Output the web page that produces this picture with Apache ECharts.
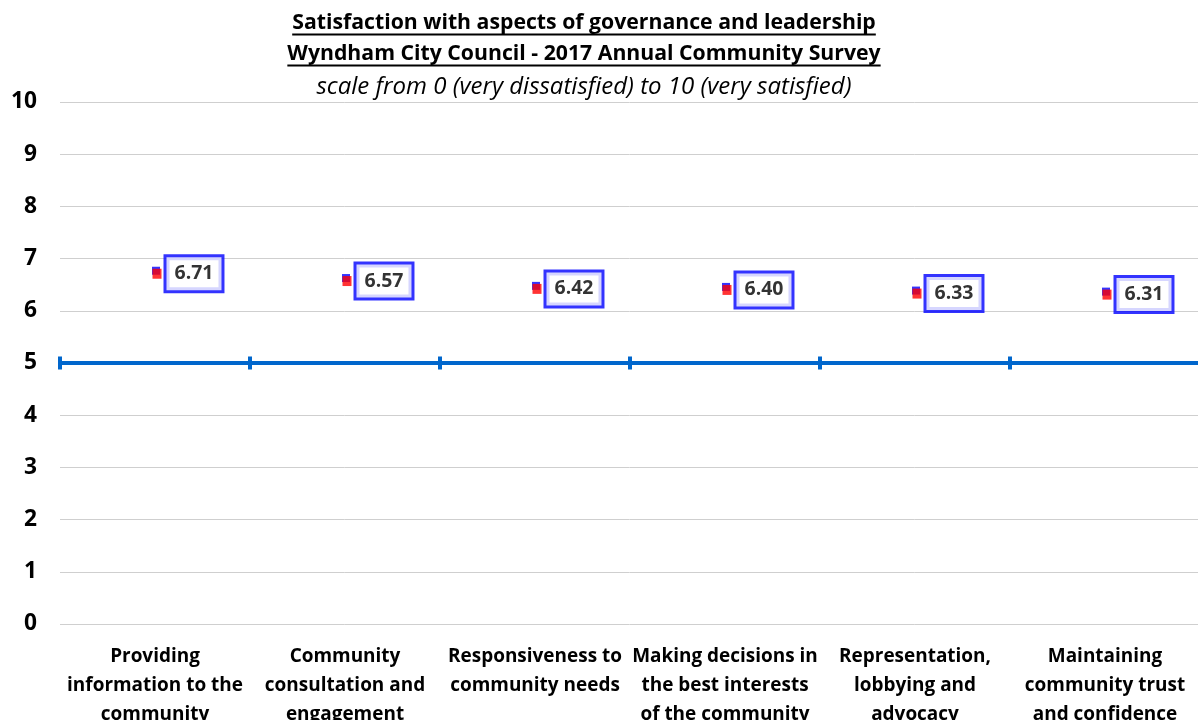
<!DOCTYPE html>
<html><head><meta charset="utf-8">
<script src="https://cdn.jsdelivr.net/npm/echarts@6/dist/echarts.min.js"></script>
<style>html,body{margin:0;padding:0;background:#fff;overflow:hidden}#c{width:1198px;height:720px}</style>
</head><body><div id="c"></div>
<script>
const titleLine1 = 'Satisfaction with aspects of governance and leadership';
const titleLine2 = 'Wyndham City Council - 2017 Annual Community Survey';
const subtitle = 'scale from 0 (very dissatisfied) to 10 (very satisfied)';
const categories = [
  'Providing\ninformation to the\ncommunity',
  'Community\nconsultation and\nengagement',
  'Responsiveness to\ncommunity needs',
  'Making decisions in\nthe best interests\nof the community',
  'Representation,\nlobbying and\nadvocacy',
  'Maintaining\ncommunity trust\nand confidence'
];
const scores = [6.71, 6.57, 6.42, 6.40, 6.33, 6.31];
const yTicks = [0,1,2,3,4,5,6,7,8,9,10];
const referenceLevel = 5;

const FONT = '"Open Sans", Lato, sans-serif';
const ctx = document.createElement('canvas').getContext('2d');
function fit(text, style, target){
  ctx.font = style + ' 100px ' + FONT;
  return 100 * target / ctx.measureText(text).width;
}
const tSize = fit(titleLine1, 'bold', 584);
const sSize = fit(subtitle, 'italic', 535);
const catSize = fit('information to the', 'bold', 176);
const ySize = fit('10', 'bold', 26);
const vSize = fit('6.71', 'bold', 39);
ctx.font = 'bold ' + tSize + 'px ' + FONT;
const w1 = ctx.measureText(titleLine1).width, w2 = ctx.measureText(titleLine2).width;

const chart = echarts.init(document.getElementById('c'));
const gridTop = 102, gridBottom = 96, chartH = 720;
const plotH = chartH - gridTop - gridBottom;
const yMin = yTicks[0], yMax = yTicks[yTicks.length-1];
const refOffset = -plotH * (referenceLevel - yMin) / (yMax - yMin);
const cx = 584;

chart.setOption({
  animation:false,
  graphic:[
    {type:'text', x:cx, y:30 - 0.32*tSize, style:{text:titleLine1, align:'center', verticalAlign:'middle', font:'bold '+tSize+'px '+FONT, fill:'#000'}},
    {type:'text', x:cx, y:60.5 - 0.32*tSize, style:{text:titleLine2, align:'center', verticalAlign:'middle', font:'bold '+tSize+'px '+FONT, fill:'#000'}},
    {type:'text', x:cx, y:95 - 0.32*sSize, style:{text:subtitle, align:'center', verticalAlign:'middle', font:'italic '+sSize+'px '+FONT, fill:'#000'}},
    {type:'line', shape:{x1:cx-w1/2, y1:34.5, x2:cx+w1/2, y2:34.5}, style:{stroke:'#000', lineWidth:1.8}},
    {type:'line', shape:{x1:cx-w2/2, y1:65.5, x2:cx+w2/2, y2:65.5}, style:{stroke:'#000', lineWidth:1.8}}
  ],
  grid:{left:60, right:-2, top:gridTop, bottom:gridBottom, containLabel:false, outerBoundsMode:'none'},
  xAxis:[
    {type:'category', data:categories, boundaryGap:true,
     axisLine:{show:false}, axisTick:{show:false},
     axisLabel:{interval:0, margin:18, fontFamily:FONT, fontSize:catSize, fontWeight:'bold', color:'#000', lineHeight:29, verticalAlign:'top'}},
    {type:'category', data:categories, boundaryGap:true, position:'bottom', offset:refOffset,
     axisLine:{show:true, lineStyle:{color:'#0066CC', width:4}},
     axisTick:{show:true, inside:false, length:6.5, interval:0, lineStyle:{color:'#0066CC', width:4}},
     axisLabel:{show:false}},
    {type:'category', data:categories, boundaryGap:true, position:'bottom', offset:refOffset,
     axisLine:{show:false},
     axisTick:{show:true, inside:true, length:6.5, interval:0, lineStyle:{color:'#0066CC', width:4}},
     axisLabel:{show:false}}
  ],
  yAxis:{type:'value', min:yMin, max:yMax, interval:1,
    axisLine:{show:false}, axisTick:{show:false},
    splitLine:{lineStyle:{color:'#cfcfcf', width:1}},
    axisLabel:{margin:23, fontFamily:FONT, fontSize:ySize, fontWeight:'bold', color:'#000'}},
  series:[
    {type:'scatter', xAxisIndex:0, data:scores, symbol:'rect', symbolSize:[8,8], symbolOffset:[1,-3],
     itemStyle:{color:'#0000ff'}, z:2, silent:true},
    {type:'scatter', xAxisIndex:0, data:scores, symbol:'rect', symbolSize:[9,10], symbolOffset:[2,0],
     itemStyle:{color:'#ff0000'}, z:3,
     label:{show:true, position:'right', distance:5, formatter:p=>p.value.toFixed(2),
       fontFamily:FONT, fontSize:vSize, fontWeight:'bold', color:'#000', lineHeight:22,
       backgroundColor:'#fff', borderColor:'#0000ff', borderWidth:3,
       padding:[6,8,5,8]}}
  ]
});
</script></body></html>
